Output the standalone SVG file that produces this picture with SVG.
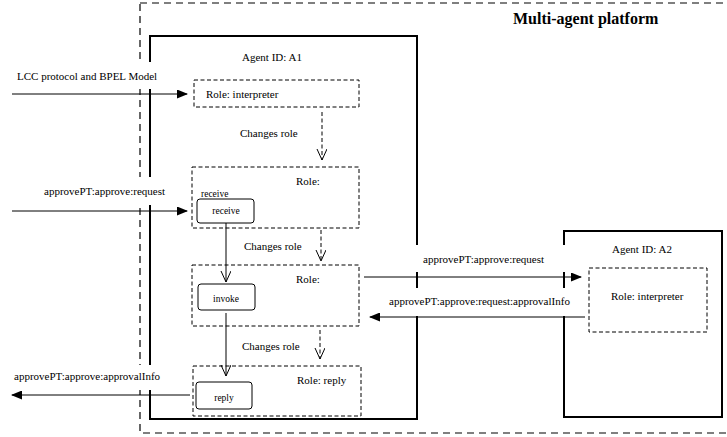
<svg xmlns="http://www.w3.org/2000/svg" width="727" height="437" viewBox="0 0 727 437" font-family="'Liberation Serif', 'DejaVu Serif', serif">
<style>
text{font-family:'Liberation Serif','DejaVu Serif',serif;font-size:11px;fill:#000}
.outer{fill:none;stroke:#000;stroke-width:1.2;stroke-dasharray:7 5}
.agent{fill:none;stroke:#000;stroke-width:2}
.role{fill:none;stroke:#000;stroke-width:1;stroke-dasharray:4 2.5}
.act{fill:#fff;stroke:#000;stroke-width:1}
.bg{fill:#fff;stroke:none}
.ln{fill:none;stroke:#000;stroke-width:1}
.dln{fill:none;stroke:#000;stroke-width:1;stroke-dasharray:4 2.5}
.small{font-size:9.5px}
.title{font-weight:bold;font-size:16px}
</style>
<defs>
<marker id="fill" markerWidth="11" markerHeight="9" refX="10" refY="4.5" orient="auto" markerUnits="userSpaceOnUse">
<path d="M0,0 L11,4.5 L0,9 Z" fill="#000"/>
</marker>
<marker id="open" markerWidth="13" markerHeight="12" refX="11" refY="5" orient="auto" markerUnits="userSpaceOnUse">
<path d="M0,0 L11,5 L0,10" fill="none" stroke="#000" stroke-width="1"/>
</marker>
</defs>

<g id="platform">
<rect class="outer" x="140" y="3" width="600" height="430"/>
<text class="title" x="513" y="24">Multi-agent platform</text>
</g>

<g id="agentA1">
<rect class="agent" x="150" y="36" width="267" height="383"/>
<text x="242" y="61">Agent ID: A1</text>
</g>

<g id="agentA2">
<rect class="agent" x="564" y="231" width="158" height="186"/>
<text x="612" y="253">Agent ID: A2</text>
</g>

<g id="label-backgrounds">
<rect class="bg" x="10" y="62" width="162" height="27"/>
<rect class="bg" x="10" y="177" width="162" height="28"/>
<rect class="bg" x="10" y="365" width="162" height="25"/>
<rect class="bg" x="366" y="245" width="212" height="27"/>
<rect class="bg" x="380" y="288" width="200" height="28"/>
</g>

<g id="role-interpreter-A1">
<rect class="role" x="194" y="80" width="165" height="27"/>
<text x="206" y="98">Role: interpreter</text>
</g>

<g id="role-receive">
<rect class="role" x="192" y="167" width="167" height="61"/>
<text x="296" y="185">Role:</text>
<text class="small" x="201" y="197">receive</text>
</g>
<g id="receive">
<rect class="act" x="197" y="199" width="57" height="24" rx="3"/>
<text class="small" x="226" y="214" text-anchor="middle">receive</text>
</g>

<g id="role-invoke">
<rect class="role" x="192" y="265" width="167" height="61"/>
<text x="296" y="283">Role:</text>
</g>
<g id="invoke">
<rect class="act" x="198" y="284" width="57" height="26" rx="3"/>
<text class="small" x="226" y="302" text-anchor="middle">invoke</text>
</g>

<g id="role-reply">
<rect class="role" x="193" y="366" width="168" height="50"/>
<text x="297" y="384">Role: reply</text>
</g>
<g id="reply">
<rect class="act" x="196" y="382" width="56" height="27" rx="3"/>
<text class="small" x="224" y="401" text-anchor="middle">reply</text>
</g>

<g id="role-interpreter-A2">
<rect class="role" x="589" y="268" width="118" height="64"/>
<text x="611" y="300">Role: interpreter</text>
</g>

<g id="connectors">
<line class="ln" x1="12" y1="94" x2="187" y2="94" marker-end="url(#fill)"/>
<text x="17" y="80">LCC protocol and BPEL Model</text>

<line class="ln" x1="12" y1="211" x2="187" y2="211" marker-end="url(#fill)"/>
<text x="44" y="195">approvePT:approve:request</text>

<line class="ln" x1="190" y1="395" x2="12" y2="395" marker-end="url(#fill)"/>
<text x="14" y="380">approvePT:approve:approvalInfo</text>

<line class="dln" x1="322" y1="112" x2="322" y2="160" marker-end="url(#open)"/>
<text x="240" y="137">Changes role</text>

<line class="dln" x1="321" y1="230" x2="321" y2="261" marker-end="url(#open)"/>
<text x="244" y="250">Changes role</text>

<line class="dln" x1="320" y1="330" x2="320" y2="359" marker-end="url(#open)"/>
<text x="242" y="350">Changes role</text>

<line class="ln" x1="226" y1="223" x2="226" y2="282" marker-end="url(#open)"/>
<line class="ln" x1="226" y1="313" x2="226" y2="376" marker-end="url(#open)"/>

<line class="ln" x1="364" y1="277" x2="581" y2="277" marker-end="url(#fill)"/>
<text x="423" y="263">approvePT:approve:request</text>

<line class="ln" x1="585" y1="317" x2="370" y2="317" marker-end="url(#fill)"/>
<text x="389" y="305">approvePT:approve:request:approvalInfo</text>
</g>
</svg>
